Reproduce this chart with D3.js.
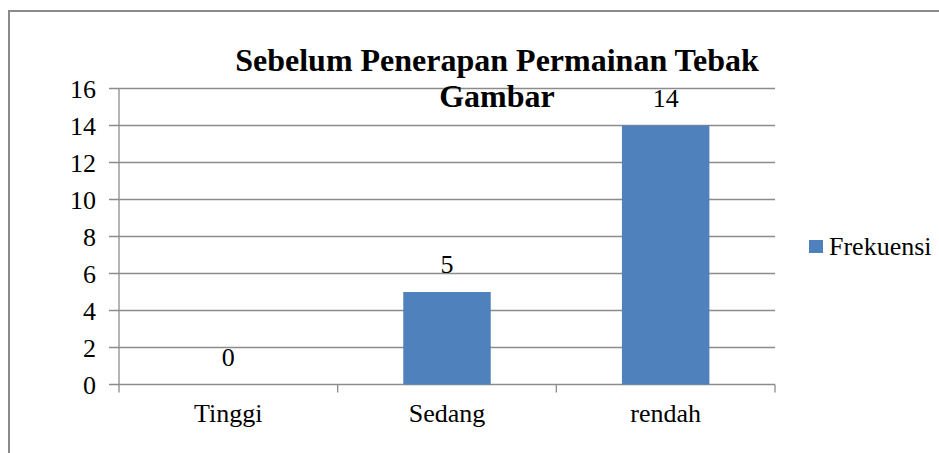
<!DOCTYPE html>
<html lang="id">
<head>
  <meta charset="utf-8">
  <title>Sebelum Penerapan Permainan Tebak Gambar</title>
  <style>
    body { margin: 0; background: #fff; }
  </style>
</head>
<body>
  <script src="https://cdn.jsdelivr.net/npm/d3@7"></script>
  <script>

      var categories = ["Tinggi", "Sedang", "rendah"];
      var frekuensi = [0, 5, 14];
      var yTicks = [0, 2, 4, 6, 8, 10, 12, 14, 16];
      var titleLines = ["Sebelum Penerapan Permainan Tebak", "Gambar"];
      var seriesName = "Frekuensi";

      var w = 939;
      var h = 453;
      var barColor = "#4f81bd";
      var gridColor = "#8c8c8c";
      var serif = "'Times New Roman', 'Liberation Serif', Times, 'DejaVu Serif', serif";

      var svg = d3.select("body").append("svg")
        .attr("width", w).attr("height", h)
        .attr("font-family", serif)
        .style("font-family", serif);

      // outer frame (only left + top visible in the image)
      svg.append("rect")
        .attr("x", 9).attr("y", 11)
        .attr("width", w + 20).attr("height", h + 20)
        .attr("fill", "none")
        .attr("stroke", "#8a8a8a")
        .attr("stroke-width", 2);

      var x = d3.scaleBand().domain(categories).range([119, 775]).padding(0);
      var y = d3.scaleLinear().domain([0, 16]).range([384.5, 88.5]);

      // gridlines
      svg.append("g")
        .selectAll("line")
        .data(yTicks)
        .enter()
        .append("line")
        .attr("x1", 109).attr("x2", 775)
        .attr("y1", function(d){ return y(d); })
        .attr("y2", function(d){ return y(d); })
        .attr("stroke", gridColor)
        .attr("stroke-width", 1.3);

      // y axis line
      svg.append("line")
        .attr("x1", 119).attr("x2", 119)
        .attr("y1", y(16)).attr("y2", y(0))
        .attr("stroke", gridColor).attr("stroke-width", 1.3);

      // y tick labels
      svg.append("g")
        .selectAll("text")
        .data(yTicks)
        .enter()
        .append("text")
        .attr("x", 96)
        .attr("y", function(d){ return y(d); })
        .attr("dy", "0.35em")
        .attr("text-anchor", "end")
        .attr("font-size", 26)
        .text(function(d){ return d; });

      // x axis tick marks at category boundaries
      var bounds = categories.map(function(c){ return x(c); }).concat([x.range()[1]]);
      svg.append("g")
        .selectAll("line")
        .data(bounds)
        .enter()
        .append("line")
        .attr("x1", function(d){ return d; })
        .attr("x2", function(d){ return d; })
        .attr("y1", y(0)).attr("y2", y(0) + 8)
        .attr("stroke", gridColor).attr("stroke-width", 1.3);

      // bars
      var barW = x.bandwidth() * 0.4;
      svg.append("g")
        .selectAll("rect")
        .data(frekuensi)
        .enter()
        .append("rect")
        .attr("x", function(d, i){ return x(categories[i]) + (x.bandwidth() - barW) / 2; })
        .attr("y", function(d){ return y(d); })
        .attr("width", barW)
        .attr("height", function(d){ return y(0) - y(d); })
        .attr("fill", barColor);

      // value labels
      svg.append("g")
        .selectAll("text")
        .data(frekuensi)
        .enter()
        .append("text")
        .attr("x", function(d, i){ return x(categories[i]) + x.bandwidth() / 2; })
        .attr("y", function(d){ return y(d) - 19; })
        .attr("text-anchor", "middle")
        .attr("font-size", 26)
        .text(function(d){ return d; });

      // category labels
      svg.append("g")
        .selectAll("text")
        .data(categories)
        .enter()
        .append("text")
        .attr("x", function(d){ return x(d) + x.bandwidth() / 2; })
        .attr("y", 422)
        .attr("text-anchor", "middle")
        .attr("font-size", 26)
        .text(function(d){ return d; });

      // title
      svg.append("g")
        .selectAll("text")
        .data(titleLines)
        .enter()
        .append("text")
        .attr("x", 497)
        .attr("y", function(d, i){ return 71 + i * 36; })
        .attr("text-anchor", "middle")
        .attr("font-size", 32)
        .attr("font-weight", "bold")
        .text(function(d){ return d; });

      // legend
      svg.append("rect")
        .attr("x", 809).attr("y", 240)
        .attr("width", 14).attr("height", 13)
        .attr("fill", barColor);
      svg.append("text")
        .attr("x", 829).attr("y", 255)
        .attr("font-size", 26)
        .text(seriesName);

  </script>
</body>
</html>
